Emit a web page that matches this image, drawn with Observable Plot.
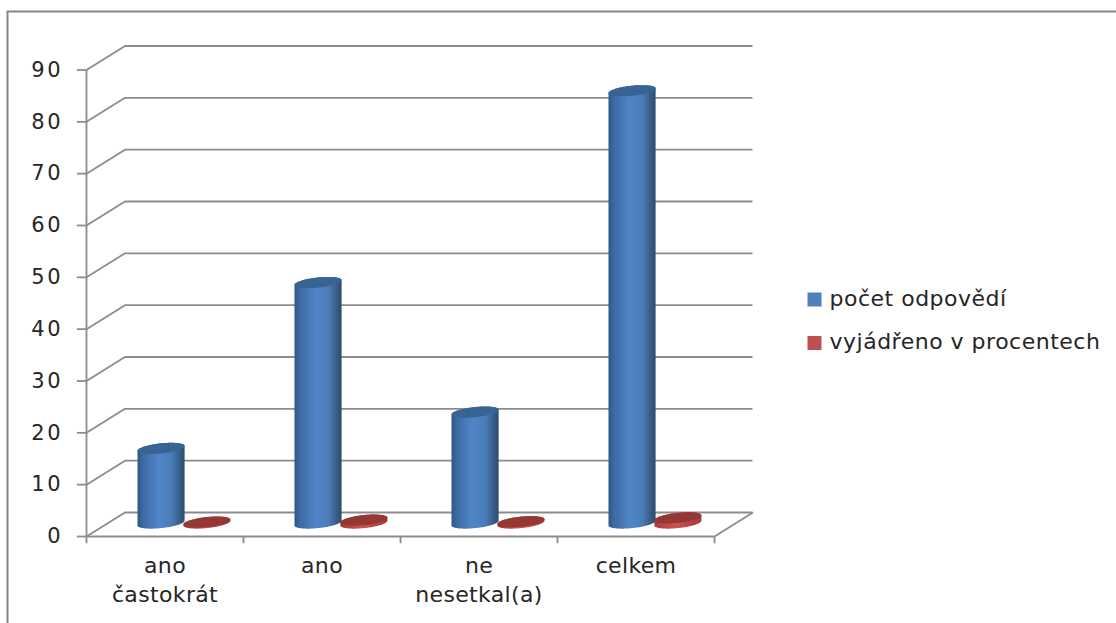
<!DOCTYPE html>
<html lang="cs">
<head>
<meta charset="utf-8">
<title>Počet odpovědí</title>
<script src="https://cdn.jsdelivr.net/npm/d3@7"></script>
<script src="https://cdn.jsdelivr.net/npm/@observablehq/plot@0.6"></script>
<style>
  html, body { margin: 0; padding: 0; background: #fff; overflow: hidden; }
  svg { display: block; }
  .digits { letter-spacing: 2.5px; }
  .cats { letter-spacing: 0.35px; }
  .legend-text { letter-spacing: 0.5px; }
</style>
</head>
<body>
<div id="chart"></div>
<script>
// Survey results
const categories = ["ano\nčastokrát", "ano", "ne\nnesetkal(a)", "celkem"];
const countValues = [15, 47, 22, 84];
const percentValues = [0.18, 0.56, 0.26, 1];
const yTicks = [0, 10, 20, 30, 40, 50, 60, 70, 80, 90];
const seriesNames = ["počet odpovědí", "vyjádřeno v procentech"];

// Oblique projection of the chart box, in scale units
const depthX = 0.245;    // category units from the front to the back wall
const depthY = 4.63;     // value units from the front to the back wall
const floorLift = 2.5;   // column base sits mid-way along the floor
const topLift = [1.9, 2.5]; // lift of each series' column tops above the floor line
const radiusX = 0.15;    // semi-axes of a column's elliptical section
const tilt = 0.46;
const radiusY = 0.98;
const seriesOffset = [0.478, 0.77];

const ink = "#262626";
const gridColor = "#8c8c8c";
const family = "'DejaVu Sans', sans-serif";
const axisFont = {fontFamily: family, fontSize: 21, fill: ink, className: "digits"};
const categoryFont = {fontFamily: family, fontSize: 22, fill: ink, className: "cats"};
const legendFont = {fontFamily: family, fontSize: 22, fill: ink, className: "legend-text"};

const back = (v) => v + depthY;
const nCat = categories.length;

// Outline samples of a column: the lower and upper edges follow its ellipses
function columnRows(values, s) {
  const rows = [];
  values.forEach((v, i) => {
    const cx = i + seriesOffset[s];
    const top = topLift[s] + v;
    for (let k = 0; k <= 60; ++k) {
      const u = -Math.cos((Math.PI * k) / 60);
      const half = radiusY * Math.sqrt(Math.max(0, 1 - u * u));
      const skew = tilt * u;
      rows.push({
        id: i,
        x: cx + radiusX * u,
        bodyLo: floorLift + skew - half,
        bodyHi: top + skew + half,
        capLo: top + skew - half,
        capHi: top + skew + half
      });
    }
  });
  return rows;
}
const blueRows = columnRows(countValues, 0);
const redRows = columnRows(percentValues, 1);

function gradient(id, stops) {
  return `<linearGradient id="${id}" x1="0" x2="1" y1="0" y2="0">` +
    stops.map(([o, c]) => `<stop offset="${o}" stop-color="${c}"/>`).join("") +
    "</linearGradient>";
}
const defsMark = () => {
  const defs = document.createElementNS("http://www.w3.org/2000/svg", "defs");
  defs.innerHTML =
    gradient("blueBody", [[0, "#2f5687"], [0.12, "#3d6ba3"], [0.45, "#5085c8"], [0.72, "#4a7cb8"], [0.92, "#35597f"], [1, "#2c4b70"]]) +
    gradient("redBody", [[0, "#a33c3a"], [0.45, "#d0514e"], [1, "#a33c3a"]]);
  return defs;
};

const line = {stroke: gridColor, strokeWidth: 1.8};
const legendY = [298, 341];
const swatchY = [299, 342.5];
const seriesColors = ["#4f81bd", "#c0504d"];

const chart = Plot.plot({
  width: 1116,
  height: 623,
  margin: 0,
  x: {domain: [0, nCat], range: [86, 714], axis: null},
  y: {domain: [0, 90], range: [536, 69.5], axis: null},
  marks: [
    defsMark,
    // outer chart border: only the top and left edges fall inside the page
    Plot.frame({insetLeft: 7, insetTop: 11, insetRight: -10, insetBottom: -10, stroke: "#868686", strokeWidth: 2}),
    // back wall grid and side wall connectors
    Plot.ruleY(yTicks, {x1: depthX, x2: nCat + depthX, y: back, ...line}),
    Plot.link(yTicks, {x1: () => 0, y1: (d) => d, x2: () => depthX, y2: back, ...line}),
    Plot.link([0], {x1: () => nCat, y1: (d) => d, x2: () => nCat + depthX, y2: back, ...line}),
    // front axes and ticks
    Plot.ruleX([0], {y1: 0, y2: 90, ...line}),
    Plot.ruleY([0], {x1: 0, x2: nCat, ...line}),
    Plot.ruleX(d3.range(nCat + 1), {y1: 0, y2: -1.4, ...line}),
    Plot.ruleY(yTicks, {x1: -0.058, x2: 0, ...line}),
    // columns
    Plot.area(blueRows, {x1: "x", y1: "bodyLo", y2: "bodyHi", z: "id", fill: "url(#blueBody)"}),
    Plot.area(blueRows, {x1: "x", y1: "capLo", y2: "capHi", z: "id", fill: "#386493"}),
    Plot.area(redRows, {x1: "x", y1: "bodyLo", y2: "bodyHi", z: "id", fill: "url(#redBody)"}),
    Plot.area(redRows, {x1: "x", y1: "capLo", y2: "capHi", z: "id", fill: "#953735"}),
    // tick labels
    Plot.text(yTicks, {x: () => 0, y: (d) => d, text: String, textAnchor: "end", dx: -23.5, ...axisFont}),
    Plot.text(categories, {
      x: (d, i) => i + 0.5,
      y: () => 0,
      text: (d) => d,
      dy: 16,
      lineAnchor: "top",
      lineHeight: 1.32,
      ...categoryFont
    }),
    // legend to the right of the plot
    ...seriesNames.flatMap((name, i) => [
      Plot.dot([name], {frameAnchor: "top-left", dx: 814, dy: swatchY[i], symbol: "square", r: 7.9, fill: seriesColors[i]}),
      Plot.text([name], {frameAnchor: "top-left", dx: 829, dy: legendY[i], text: (d) => d, textAnchor: "start", lineAnchor: "middle", ...legendFont})
    ])
  ]
});
document.getElementById("chart").append(chart);
</script>
</body>
</html>
